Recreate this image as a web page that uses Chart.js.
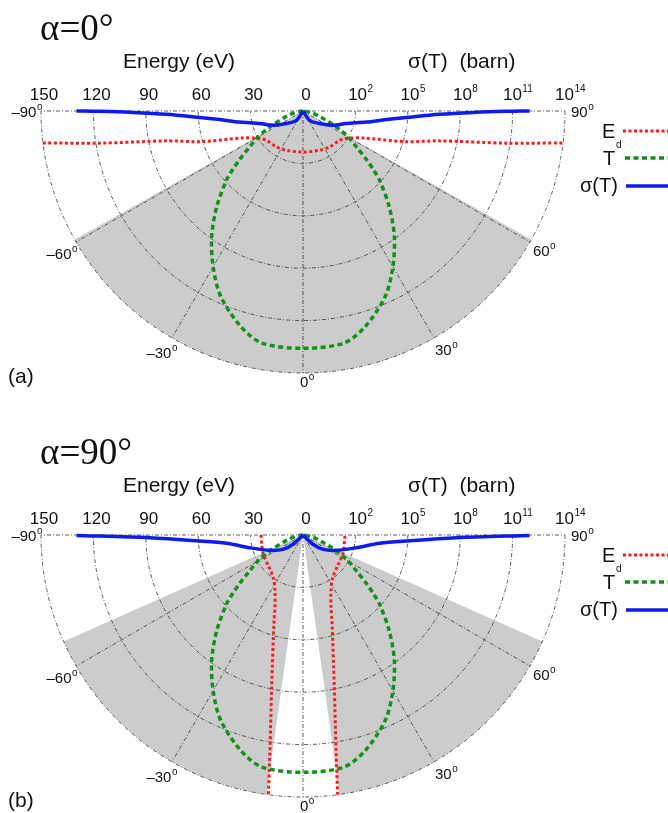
<!DOCTYPE html>
<html>
<head>
<meta charset="utf-8">
<script src="https://cdn.jsdelivr.net/npm/chart.js@4.4.1/dist/chart.umd.min.js"></script>
<style>
  body { margin: 0; background: #fff; width: 668px; height: 813px; overflow: hidden; position: relative; }
  canvas { position: absolute; left: 0; }
</style>
</head>
<body>
<canvas id="chartA" width="668" height="400" style="top:0"></canvas>
<canvas id="chartB" width="668" height="389" style="top:424px"></canvas>
<script>
// ring labels
const energyTicks = [150, 120, 90, 60, 30, 0];      // eV
const sigmaTicks = [2, 5, 8, 11, 14];               // 10^n barn
const angleTicks = [-90, -60, -30, 0, 30, 60, 90];  // degrees

// T(theta), eV, read on the right half (same in both panels)
const tAngle  = [0, 10, 16, 24, 30, 36, 42, 48, 50, 52.5, 56, 60, 63, 66, 70, 74, 78, 84, 90];
const tEnergy = [135.9, 134.9, 128.6, 116, 102.9, 89, 73.8, 58.9, 53, 46, 37, 30, 24, 18, 12, 8, 5, 2, 0];

// panel (a), alpha = 0
const edAngleA  = [0, 23, 36.5, 51, 56, 60.6, 66, 73.4, 77.6, 81, 83];
const edEnergyA = [23.5, 24.4, 25.6, 26.8, 28.5, 31.5, 38, 61.5, 79.6, 117.6, 150];
const sigAngleA = [30, 35.4, 52.8, 64.5, 73.8, 80.1, 84.1, 86.4, 88.6, 89.5, 89.9, 90];
const sigBarnA  = [0.1, 0.45, 1.55, 7.9, 38, 480, 6200, 8.5e4, 6.6e6, 5.4e8, 4.2e10, 9.3e11];
const shadeA = [[-60.6, 60.6]];

// panel (b), alpha = 90
const edAngleB  = [7.6, 8.6, 11.6, 18.6, 21.1, 26.6, 34.8, 48.2, 64.1, 77.3, 88.6, 90];
const edEnergyB = [150, 127, 89.2, 52, 44.6, 35.8, 29.8, 26.6, 25.3, 24.2, 24, 24];
const sigAngleB = [30, 47, 54.4, 65.3, 76.6, 83.8, 86.7, 89, 89.9];
const sigBarnB  = [0.1, 0.6, 2.6, 12.6, 138, 2570, 8.5e4, 6.0e7, 9.3e11];
const shadeB = [[-66, -8], [8, 66]];

const SANS = '"Liberation Sans", Arial, sans-serif';
const SERIF = '"Liberation Serif", "Times New Roman", serif';
const RED = '#ff1c1c', GREEN = '#13901a', BLUE = '#0c1cf0';
const K = 262 / 150; // pixels per eV

const rad = d => d * Math.PI / 180;
const sigmaR = s => (Math.log10(s) + 1) * 10;   // 3 decades per 30 eV ring, centre = 0.1 barn

function toXY(angles, radii, sign) {
  return angles.map((t, i) => ({ x: sign * radii[i] * Math.sin(rad(t)), y: -radii[i] * Math.cos(rad(t)) }));
}
// left half (reversed, so the path runs from -90 toward the centre) and right half
function halves(angles, radii) {
  return [toXY(angles, radii, -1).reverse(), toXY(angles, radii, 1)];
}
function whole(angles, radii) {
  const [l, r] = halves(angles, radii);
  return l.concat(r.slice(angles[0] === 0 ? 1 : 0));
}

function line(points, color, width, dash) {
  return { data: points, showLine: true, borderColor: color, borderWidth: width, borderDash: dash,
           borderCapStyle: 'butt', pointRadius: 0, tension: 0.3, fill: false };
}

function supText(ctx, main, sup, x, y, align, size, supSize, rise) {
  ctx.font = size + 'px ' + SANS;
  const w1 = ctx.measureText(main).width;
  ctx.font = supSize + 'px ' + SANS;
  const w2 = ctx.measureText(sup).width;
  const x0 = align === 'right' ? x - w1 - w2 : align === 'center' ? x - (w1 + w2) / 2 : x;
  ctx.textAlign = 'left';
  ctx.textBaseline = 'alphabetic';
  ctx.font = size + 'px ' + SANS;
  ctx.fillText(main, x0, y);
  ctx.font = supSize + 'px ' + SANS;
  ctx.fillText(sup, x0 + w1 + 0.5, y - rise);
}

// label placement around the rim: [align, dx, dy]
const angleLabelPos = {
  '-90': ['right', 1, 6], '-60': ['right', 1, 17], '-30': ['right', 5, 20], '0': ['left', -3, 14],
  '30': ['left', 1, 17], '60': ['left', 3, 14], '90': ['left', 6, 6]
};

function polarFrame(sectors, title, tag) {
  return {
    id: 'polarFrame',
    beforeDatasetsDraw(chart) {
      const { ctx, scales: { x, y } } = chart;
      const cx = x.getPixelForValue(0), cy = y.getPixelForValue(0);
      const rr = e => x.getPixelForValue(e) - cx;
      const R = rr(150);
      ctx.save();
      ctx.fillStyle = '#cccccc';
      sectors.forEach(([a, b]) => {
        ctx.beginPath();
        ctx.moveTo(cx, cy);
        ctx.arc(cx, cy, R, Math.PI / 2 - rad(b), Math.PI / 2 - rad(a));
        ctx.closePath();
        ctx.fill();
      });
      ctx.strokeStyle = '#2a2a2a';
      ctx.lineWidth = 0.75;
      ctx.setLineDash([4, 2, 1, 2]);
      [30, 60, 90, 120, 150].forEach(e => {
        ctx.beginPath();
        ctx.arc(cx, cy, rr(e), 0, Math.PI);
        ctx.stroke();
      });
      angleTicks.forEach(t => {
        ctx.beginPath();
        ctx.moveTo(cx, cy);
        ctx.lineTo(cx + R * Math.sin(rad(t)), cy + R * Math.cos(rad(t)));
        ctx.stroke();
      });
      ctx.restore();
    },
    afterDatasetsDraw(chart) {
      const { ctx, scales: { x, y } } = chart;
      const cx = x.getPixelForValue(0), cy = y.getPixelForValue(0);
      const rr = e => x.getPixelForValue(e) - cx;
      const R = rr(150);
      ctx.save();
      ctx.fillStyle = '#111';
      ctx.textBaseline = 'alphabetic';

      // title
      ctx.font = '37px ' + SERIF;
      ctx.textAlign = 'left';
      ctx.fillText(title, 40, cy - 71);

      // axis titles
      ctx.font = '21px ' + SANS;
      ctx.fillText('Energy (eV)', 123, cy - 43);
      ctx.fillText('\u03c3(T)  (barn)', 408, cy - 43);

      // ring labels
      ctx.font = '17px ' + SANS;
      ctx.textAlign = 'center';
      energyTicks.forEach(e => ctx.fillText(String(e), cx - rr(e) + 3, cy - 11));
      sigmaTicks.forEach(n => supText(ctx, '10', String(n), cx + rr((n + 1) * 10) + 5, cy - 11, 'center', 17, 10, 8));

      // angle labels
      angleTicks.forEach(t => {
        const [al, dx, dy] = angleLabelPos[String(t)];
        const px = cx + R * Math.sin(rad(t)), py = cy + R * Math.cos(rad(t));
        const txt = t < 0 ? '\u2013' + Math.abs(t) : String(t);
        supText(ctx, txt, 'o', px + dx, py + dy, al, 15, 10, 7);
      });

      // panel tag
      ctx.font = '21px ' + SANS;
      ctx.textAlign = 'left';
      ctx.fillText(tag, 8, cy + 272);

      // legend
      ctx.font = '20px ' + SANS;
      ctx.fillText('E', 602, cy + 27);
      ctx.font = '10px ' + SANS;
      ctx.fillText('d', 616, cy + 37);
      ctx.font = '20px ' + SANS;
      ctx.fillText('T', 603, cy + 54);
      ctx.fillText('\u03c3(T)', 580, cy + 81);
      const keys = [[RED, 3, [3, 2.5], 623, 20], [GREEN, 3.5, [5, 3.5], 625, 47], [BLUE, 3.5, [], 626, 75]];
      keys.forEach(([c, w, d, x0, dy]) => {
        ctx.strokeStyle = c; ctx.lineWidth = w; ctx.setLineDash(d);
        ctx.beginPath(); ctx.moveTo(x0, cy + dy); ctx.lineTo(672, cy + dy); ctx.stroke();
      });
      ctx.restore();
    }
  };
}

function makeChart(id, H, datasets, sectors, title, tag) {
  const cxPx = 303, cyPx = 111;
  return new Chart(document.getElementById(id), {
    type: 'scatter',
    data: { datasets },
    options: {
      responsive: false,
      animation: false,
      layout: { padding: 0 },
      plugins: { legend: { display: false }, tooltip: { enabled: false } },
      scales: {
        x: { type: 'linear', display: false, min: -cxPx / K, max: (668 - cxPx) / K },
        y: { type: 'linear', display: false, min: -(H - cyPx) / K, max: cyPx / K }
      }
    },
    plugins: [polarFrame(sectors, title, tag)]
  });
}

const tCurve = whole(tAngle, tEnergy);

const [sigAL, sigAR] = halves(sigAngleA, sigBarnA.map(sigmaR));
makeChart('chartA', 400, [
  line(sigAL, BLUE, 3.5, []),
  line(sigAR, BLUE, 3.5, []),
  line(tCurve, GREEN, 3.5, [5, 3.5]),
  line(whole(edAngleA, edEnergyA), RED, 3, [3, 2.5])
], shadeA, '\u03b1=0\u00b0', '(a)');

const [sigBL, sigBR] = halves(sigAngleB, sigBarnB.map(sigmaR));
const [edBL, edBR] = halves(edAngleB, edEnergyB);
makeChart('chartB', 389, [
  line(sigBL, BLUE, 3.5, []),
  line(sigBR, BLUE, 3.5, []),
  line(tCurve, GREEN, 3.5, [5, 3.5]),
  line(edBL, RED, 3, [3, 2.5]),
  line(edBR, RED, 3, [3, 2.5])
], shadeB, '\u03b1=90\u00b0', '(b)');
</script>
</body>
</html>
